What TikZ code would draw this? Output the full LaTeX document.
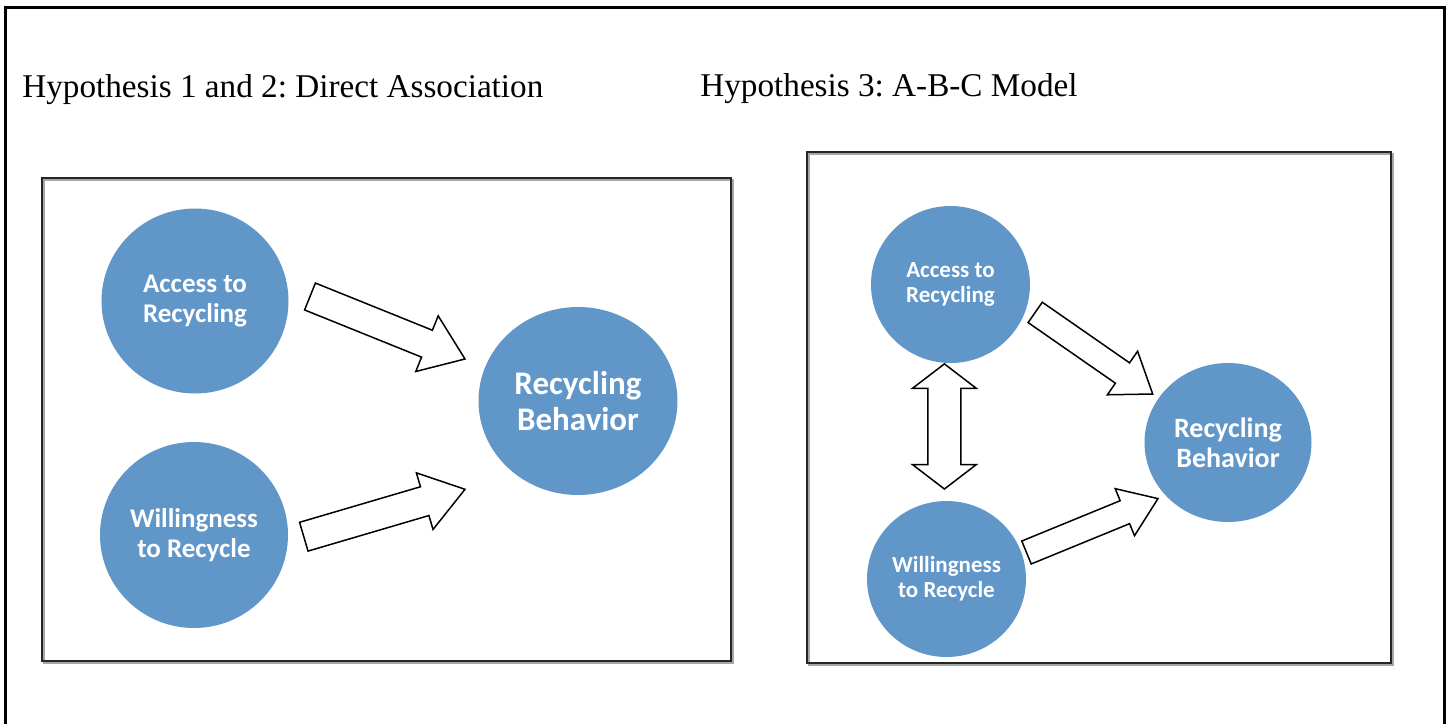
\documentclass[tikz,border=0pt]{standalone}
\usepackage{fontspec}
\setmainfont{Liberation Serif}
\newfontfamily\calfont{Carlito}
\usetikzlibrary{calc,shapes.geometric}
\frenchspacing
\definecolor{bubblue}{RGB}{97,150,201}
\tikzset{
  bub/.style={ellipse, fill=bubblue, text=white, inner sep=0pt, align=center},
  bigtxt/.style={font=\calfont\bfseries\fontsize{13.5}{15}\selectfont},
  hugetxt/.style={font=\calfont\bfseries\fontsize{16.5}{18}\selectfont},
  smalltxt/.style={font=\calfont\bfseries\fontsize{11.5}{12.3}\selectfont},
  midtxt/.style={font=\calfont\bfseries\fontsize{14}{14.8}\selectfont},
  blockarr/.style={draw=black, fill=white, line width=0.75pt, line join=miter},
  panel/.style={draw=black!85, line width=1pt},
  panelshadow/.style={draw=black!35, line width=1pt},
  title/.style={font=\fontsize{16.6}{19}\selectfont, anchor=base west, inner sep=0pt}
}
\newcommand\fatarrow[5]{%
  \coordinate (fa-h) at ($(#2)!#5!(#1)$);
  \draw[blockarr] ($(#1)!#3!90:(#2)$) -- ($(fa-h)!#3!-90:(#1)$) -- ($(fa-h)!#4!-90:(#1)$) -- (#2)
     -- ($(fa-h)!#4!90:(#1)$) -- ($(fa-h)!#3!90:(#1)$) -- ($(#1)!#3!-90:(#2)$) -- cycle;
}
\newcommand\dblarrow[5]{%
  \coordinate (da-1) at ($(#1)!#5!(#2)$);
  \coordinate (da-2) at ($(#2)!#5!(#1)$);
  \draw[blockarr] (#1) -- ($(da-1)!#4!90:(#2)$) -- ($(da-1)!#3!90:(#2)$) -- ($(da-2)!#3!-90:(#1)$)
     -- ($(da-2)!#4!-90:(#1)$) -- (#2) -- ($(da-2)!#4!90:(#1)$) -- ($(da-2)!#3!90:(#1)$)
     -- ($(da-1)!#3!-90:(#2)$) -- ($(da-1)!#4!-90:(#2)$) -- cycle;
}
\begin{document}
\begin{tikzpicture}[x=0.5pt,y=-0.5pt]
\useasboundingbox (0,0) rectangle (1448,724);
% outer frame (open at bottom)
\draw[black, line width=1.1pt] (5.5,724) -- (5.5,7.5) -- (1444.5,7.5) -- (1444.5,724);
% titles
\node[title] (t1) at (22,97) {Hypothesis 1 and 2: Direct Association};
\node[title] (t2) at (700,96) {Hypothesis 3: A-B-C Model};
% panels
\draw[panelshadow] (43.5,179.5) rectangle (733,663);
\draw[panel] (41.5,177.5) rectangle (731,661);
\draw[panelshadow] (809,154) rectangle (1393,665);
\draw[panel] (807,152) rectangle (1391,663);
% left panel nodes
\node[bub, bigtxt, minimum width=93.5pt, minimum height=92.5pt] (acc1) at (195,301) {Access to\\Recycling};
\node[bub, bigtxt, minimum width=94pt, minimum height=93pt] (will1) at (194,535) {Willingness\\to Recycle};
\node[bub, hugetxt, minimum width=99.5pt, minimum height=94pt] (beh1) at (578,401) {Recycling\\Behavior};
% right panel nodes
\node[bub, smalltxt, minimum width=79.5pt, minimum height=78.5pt] (acc2) at (950.5,284.5) {Access to\\Recycling};
\node[bub, smalltxt, minimum width=79.5pt, minimum height=78pt] (will2) at (946.5,579) {Willingness\\to Recycle};
\node[bub, midtxt, minimum width=83.5pt, minimum height=79.5pt] (beh2) at (1228,442.5) {Recycling\\Behavior};
% arrow end points
\coordinate (a1t) at (310,296.5);
\coordinate (a1h) at (465,359);
\coordinate (a2t) at (303.8,536.7);
\coordinate (a2h) at (465,489.3);
\coordinate (a3t) at (1035.2,312.4);
\coordinate (a3h) at (1152.7,394);
\coordinate (a4t) at (1026.5,552.5);
\coordinate (a4h) at (1158,498.6);
\coordinate (d1) at (944.4,363.9);
\coordinate (d2) at (944.4,489);
% arrows
\fatarrow{a1t}{a1h}{7.25pt}{15pt}{20.5pt}
\fatarrow{a2t}{a2h}{7.5pt}{14.75pt}{21pt}
\fatarrow{a3t}{a3h}{6.2pt}{13.25pt}{18.4pt}
\fatarrow{a4t}{a4h}{6.2pt}{12.7pt}{17.9pt}
\dblarrow{d1}{d2}{8.25pt}{16pt}{12.25pt}
\end{tikzpicture}
\end{document}
